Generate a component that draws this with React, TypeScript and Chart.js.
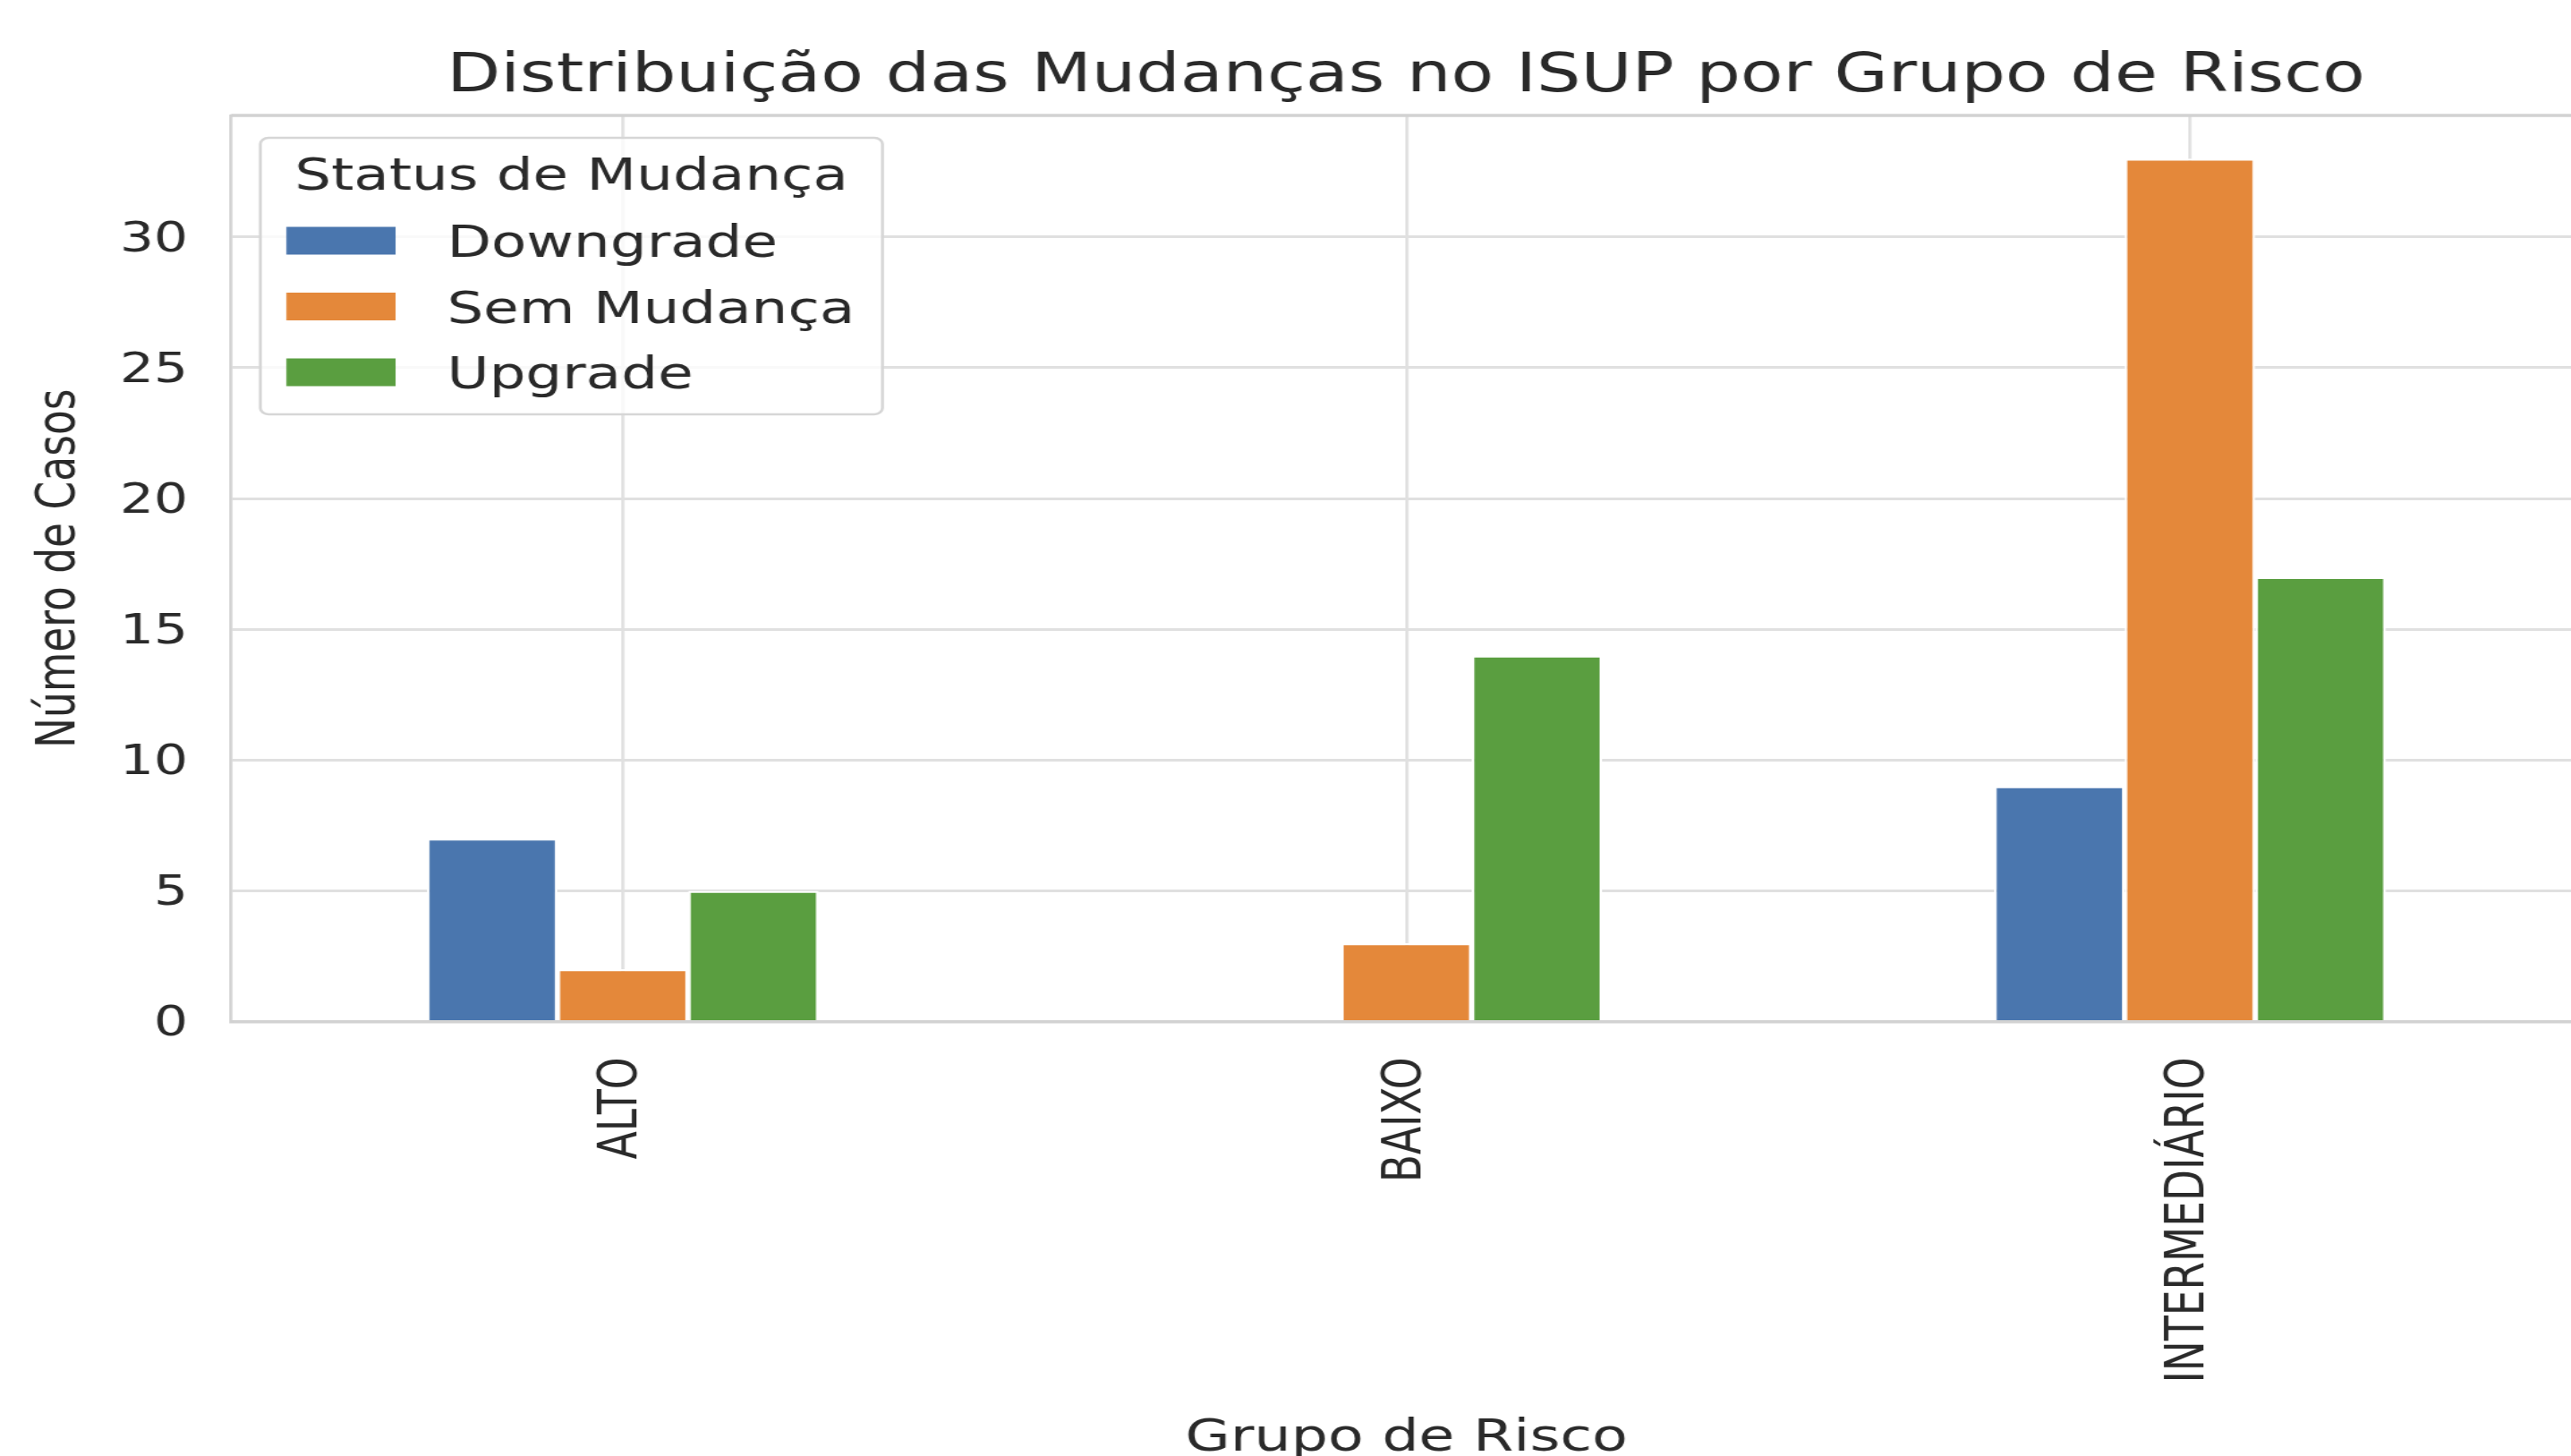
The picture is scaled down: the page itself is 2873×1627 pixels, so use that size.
import React, { useEffect, useRef } from "react";
import { Chart, registerables } from "chart.js";

Chart.register(...registerables);

// ---------- data ----------
const categories = ["ALTO", "BAIXO", "INTERMEDIÁRIO"];
const seriesNames = ["Downgrade", "Sem Mudança", "Upgrade"];
const downgrade = [7, 0, 9];
const semMudanca = [2, 3, 33];
const upgrade = [5, 14, 17];
const yTicks = [0, 5, 10, 15, 20, 25, 30];
const yMax = 34.65;
const seriesColors = ["#4a76ae", "#e4883a", "#5a9e40"];
const chartTitle = "Distribuição das Mudanças no ISUP por Grupo de Risco";
const xTitle = "Grupo de Risco";
const yTitle = "Número de Casos";
const legendTitle = "Status de Mudança";

// ---------- style / geometry ----------
const KX = 1.3; // horizontal stretch of the reference figure
const CW = 2417;
const CH = 1660;
const FAMILY = "'DejaVu Sans', 'Liberation Sans', sans-serif";
const TEXT = "#2a2a2a";
const GRID = "#e0e0e0";
const SPINE = "#d2d2d2";

const framePlugin = {
  id: "frameAndLegend",
  afterDraw(chart: any) {
    const ctx = chart.ctx as CanvasRenderingContext2D;
    const area = chart.chartArea;
    ctx.save();
    // top spine
    ctx.strokeStyle = SPINE;
    ctx.lineWidth = 3.5;
    ctx.beginPath();
    ctx.moveTo(area.left, area.top);
    ctx.lineTo(area.right, area.top);
    ctx.stroke();

    // legend box
    const x0 = 223.8, y0 = 154, x1 = 758.5, y1 = 463;
    ctx.beginPath();
    if ((ctx as any).roundRect) (ctx as any).roundRect(x0, y0, x1 - x0, y1 - y0, 7);
    else ctx.rect(x0, y0, x1 - x0, y1 - y0);
    ctx.fillStyle = "rgba(255,255,255,0.8)";
    ctx.fill();
    ctx.lineWidth = 2.6;
    ctx.strokeStyle = "#d6d6d6";
    ctx.stroke();

    ctx.font = `49.5px ${FAMILY}`;
    ctx.fillStyle = TEXT;
    ctx.textAlign = "center";
    ctx.textBaseline = "alphabetic";
    ctx.fillText(legendTitle, (x0 + x1) / 2, 212);

    chart.data.datasets.forEach((ds: any, i: number) => {
      const cy = 269 + 73.5 * i;
      ctx.fillStyle = ds.backgroundColor;
      ctx.fillRect(246.2, cy - 15.5, 93.8, 31);
      ctx.fillStyle = TEXT;
      ctx.textAlign = "left";
      ctx.fillText(ds.label, 384.2, cy + 18);
    });
    ctx.restore();
  },
};

export default function App() {
  const ref = useRef<HTMLCanvasElement | null>(null);

  useEffect(() => {
    if (!ref.current) return;
    Chart.defaults.font.family = FAMILY;
    const values = [downgrade, semMudanca, upgrade];
    const chart = new Chart(ref.current, {
      type: "bar",
      data: {
        labels: categories,
        datasets: seriesNames.map((name, i) => ({
          label: name,
          data: values[i],
          backgroundColor: seriesColors[i],
          borderColor: "#ffffff",
          borderWidth: 2.3,
          categoryPercentage: 0.5,
          barPercentage: 1.0,
          yAxisID: "y",
        })),
      },
      options: {
        responsive: false,
        animation: false,
        devicePixelRatio: 1,
        layout: { padding: { left: 0, right: 0, top: 0, bottom: 0 } },
        plugins: {
          legend: { display: false },
          tooltip: { enabled: false },
          title: {
            display: true,
            text: chartTitle,
            color: TEXT,
            font: { family: FAMILY, size: 60, weight: "normal" },
            padding: { top: 50.9, bottom: 6.1 },
          },
        },
        scales: {
          x: {
            type: "category",
            offset: true,
            grid: { display: true, offset: false, color: GRID, lineWidth: 2.7, drawTicks: false },
            border: { display: true, color: SPINE, width: 3.5 },
            ticks: {
              autoSkip: false,
              maxRotation: 90,
              minRotation: 90,
              padding: 40,
              color: TEXT,
              font: { family: FAMILY, size: 45.5 },
            },
            title: {
              display: true,
              text: xTitle,
              color: TEXT,
              font: { family: FAMILY, size: 50 },
              padding: { top: 0, bottom: 21.5 },
            },
            afterFit(scale: any) {
              scale.height = CH - 1141.5;
            },
          },
          y: {
            type: "linear",
            position: "left",
            min: 0,
            max: yMax,
            afterBuildTicks(scale: any) {
              scale.ticks = yTicks.map((v) => ({ value: v }));
            },
            grid: { color: GRID, lineWidth: 3, drawTicks: false },
            border: { display: true, color: SPINE, width: 2.7 },
            ticks: { padding: 37, labelOffset: 4, color: TEXT, font: { family: FAMILY, size: 46 } },
            title: {
              display: true,
              text: yTitle,
              color: TEXT,
              font: { family: FAMILY, size: 45.5 },
              padding: { top: 24.5, bottom: 0 },
            },
            afterFit(scale: any) {
              scale.width = 198.5;
            },
          },
          // empty right-hand margin (the figure's plot runs past the picture's edge)
          yRight: {
            type: "linear",
            position: "right",
            display: true,
            min: 0,
            max: yMax,
            grid: { drawOnChartArea: false, drawTicks: false },
            border: { display: false },
            ticks: { display: false },
            afterFit(scale: any) {
              scale.width = CW - 2219.2;
            },
          },
        },
      },
      plugins: [framePlugin],
    } as any);
    return () => chart.destroy();
  }, []);

  return (
    <div
      style={{
        position: "fixed",
        left: 0,
        top: 0,
        width: "2873px",
        height: "1627px",
        overflow: "hidden",
        background: "#ffffff",
      }}
    >
      <canvas
        ref={ref}
        width={CW}
        height={CH}
        style={{
          display: "block",
          width: `${CW}px`,
          height: `${CH}px`,
          transform: `scaleX(${KX})`,
          transformOrigin: "0 0",
        }}
      />
    </div>
  );
}
